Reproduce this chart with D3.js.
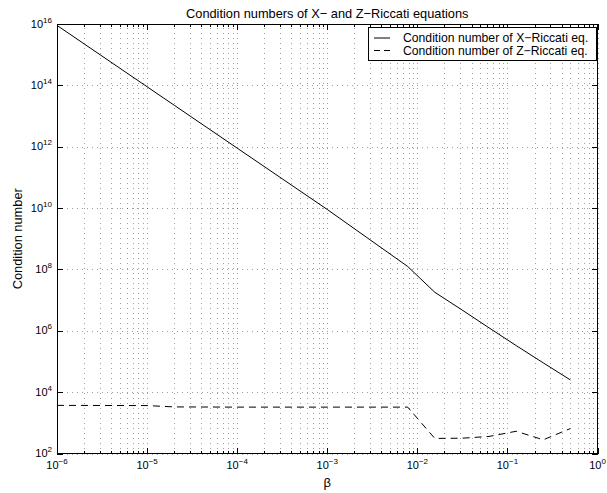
<!DOCTYPE html>
<html>
<head>
<meta charset="utf-8">
<script src="https://cdn.jsdelivr.net/npm/d3@7"></script>
<style>
  html, body { margin: 0; padding: 0; background: #fff; }
  svg { display: block; font-family: "Liberation Sans", Arial, Helvetica, sans-serif; }
</style>
</head>
<body>
<svg id="chart" width="607" height="493"></svg>
<script>
// ---- data ----
const beta = [1e-6, 1e-5, 2e-5, 1e-4, 1e-3, 0.0078125, 0.015625, 0.03125, 0.0625, 0.125, 0.25, 0.5];
const condX = [9e15, 9e13, 2.25e13, 9e11, 9e9, 1.25e8, 1.8e7, 4.8e6, 1.25e6, 3.3e5, 9e4, 2.5e4];
const condZ = [3700, 3650, 3300, 3250, 3250, 3250, 310, 315, 360, 530, 280, 650];
const xTickExps = [-6, -5, -4, -3, -2, -1, 0];
const yTickExps = [2, 4, 6, 8, 10, 12, 14, 16];
const seriesNames = ["Condition number of X\u2212Riccati eq.", "Condition number of Z\u2212Riccati eq."];
const titleText = "Condition numbers of X\u2212 and Z\u2212Riccati equations";
const xLabel = "\u03b2";
const yLabel = "Condition number";

// ---- layout ----
const L = 57, R = 597.5, T = 24, B = 453.5;
const svg = d3.select("#chart");
const x = d3.scaleLog().domain([1e-6, 1]).range([L, R]);
const y = d3.scaleLog().domain([1e2, 1e16]).range([B, T]);

const xMajor = xTickExps.map(e => Math.pow(10, e));
const xMinor = [];
for (let i = 0; i < xTickExps.length - 1; i++) {
  for (let k = 2; k <= 9; k++) xMinor.push(k * Math.pow(10, xTickExps[i]));
}
const yMajor = yTickExps.map(e => Math.pow(10, e));

// grid
function styleGrid(g) {
  g.select(".domain").remove();
  g.selectAll("line").attr("stroke", "#000").attr("stroke-opacity", 0.38)
    .attr("stroke-dasharray", "1,4").attr("shape-rendering", "crispEdges");
}
const grid = svg.append("g").attr("class", "grid");
grid.append("g").attr("transform", `translate(0,${B})`)
  .call(d3.axisBottom(x).tickValues(xMajor.concat(xMinor)).tickSize(-(B - T)).tickFormat(""))
  .call(styleGrid);
grid.append("g").attr("transform", `translate(${L},0)`)
  .call(d3.axisLeft(y).tickValues(yMajor).tickSize(-(R - L)).tickFormat(""))
  .call(styleGrid);

// lines
const line = d3.line().x((d, i) => x(beta[i])).y(d => y(d));
svg.append("path").datum(condX).attr("d", line)
  .attr("fill", "none").attr("stroke", "#000").attr("stroke-width", 1);
svg.append("path").datum(condZ).attr("d", line)
  .attr("fill", "none").attr("stroke", "#000").attr("stroke-width", 1)
  .attr("stroke-dasharray", "7,5");

// axes box and ticks
function styleAxis(g) {
  g.select(".domain").remove();
  g.selectAll("line").attr("stroke", "#000").attr("shape-rendering", "crispEdges");
}
svg.append("g").attr("transform", `translate(0,${B})`)
  .call(d3.axisBottom(x).tickValues(xMajor).tickSize(-6).tickFormat(""))
  .call(styleAxis);
svg.append("g").attr("transform", `translate(0,${B})`)
  .call(d3.axisBottom(x).tickValues(xMinor).tickSize(-3).tickFormat(""))
  .call(styleAxis);
svg.append("g").attr("transform", `translate(0,${T})`)
  .call(d3.axisTop(x).tickValues(xMajor).tickSize(-6).tickFormat(""))
  .call(styleAxis);
svg.append("g").attr("transform", `translate(0,${T})`)
  .call(d3.axisTop(x).tickValues(xMinor).tickSize(-3).tickFormat(""))
  .call(styleAxis);
svg.append("g").attr("transform", `translate(${L},0)`)
  .call(d3.axisLeft(y).tickValues(yMajor).tickSize(-6).tickFormat(""))
  .call(styleAxis);
svg.append("g").attr("transform", `translate(${R},0)`)
  .call(d3.axisRight(y).tickValues(yMajor).tickSize(-6).tickFormat(""))
  .call(styleAxis);

svg.append("rect").attr("x", L).attr("y", T).attr("width", R - L).attr("height", B - T)
  .attr("fill", "none").attr("stroke", "#000").attr("stroke-width", 1).attr("shape-rendering", "crispEdges");

// tick labels
const xl = svg.append("g").attr("font-size", 11).attr("fill", "#000");
xTickExps.forEach(e => {
  const t = xl.append("text").attr("x", x(Math.pow(10, e))).attr("y", B + 15.5).attr("text-anchor", "middle");
  t.append("tspan").text("10");
  t.append("tspan").attr("dy", -5).attr("font-size", 8).text(e < 0 ? "\u2212" + Math.abs(e) : String(e));
});
const yl = svg.append("g").attr("font-size", 11).attr("fill", "#000");
yTickExps.forEach(e => {
  const t = yl.append("text").attr("x", L - 5).attr("y", y(Math.pow(10, e)) + 3.5).attr("text-anchor", "end");
  t.append("tspan").text("10");
  t.append("tspan").attr("dy", -5).attr("font-size", 8).text(String(e));
});

// title, labels
svg.append("text").attr("x", (L + R) / 2).attr("y", 17.5).attr("text-anchor", "middle")
  .attr("font-size", 12.8).text(titleText);
svg.append("text").attr("x", (L + R) / 2).attr("y", 487).attr("text-anchor", "middle")
  .attr("font-size", 13).text(xLabel);
svg.append("text").attr("transform", `translate(22,${(T + B) / 2}) rotate(-90)`)
  .attr("text-anchor", "middle").attr("font-size", 12.8).text(yLabel);

// legend
const lg = svg.append("g");
const lx = 368, ly = 27.5, lw = 228, lh = 33;
lg.append("rect").attr("x", lx).attr("y", ly).attr("width", lw).attr("height", lh)
  .attr("fill", "#fff").attr("stroke", "#000").attr("stroke-width", 1).attr("shape-rendering", "crispEdges");
seriesNames.forEach((name, i) => {
  const cy = ly + 10.5 + i * 12.5;
  lg.append("line").attr("x1", lx + 6).attr("x2", lx + 22).attr("y1", cy).attr("y2", cy)
    .attr("stroke", "#000").attr("stroke-width", 1)
    .attr("stroke-dasharray", i === 1 ? "6,4" : null);
  lg.append("text").attr("x", lx + 35).attr("y", cy + 4.3).attr("font-size", 12.2).text(name);
});
</script>
</body>
</html>
